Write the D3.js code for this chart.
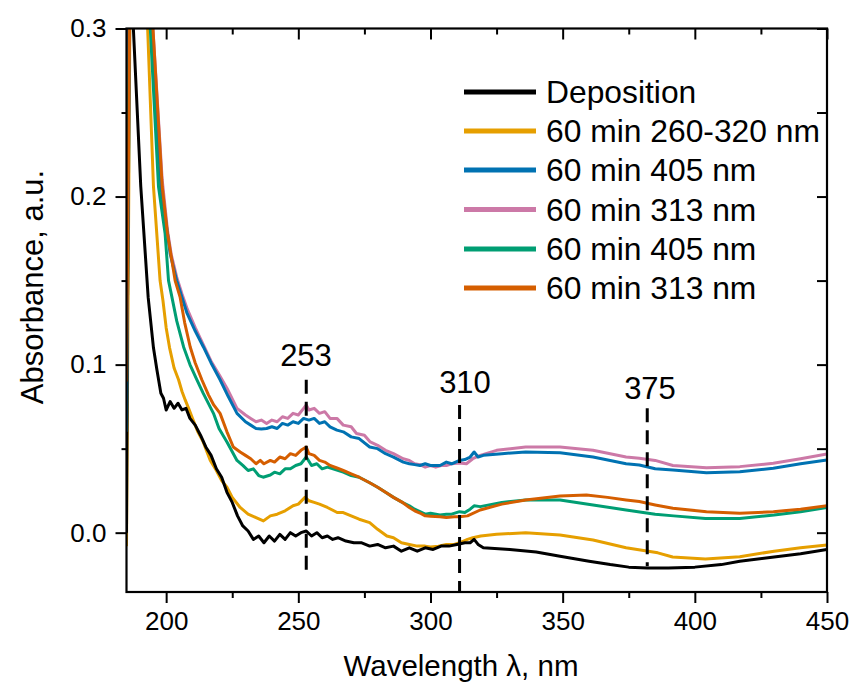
<!DOCTYPE html>
<html>
<head>
<meta charset="utf-8">
<script src="https://cdn.jsdelivr.net/npm/d3@7"></script>
<style>
  body { margin: 0; background: #fff; }
  svg { display: block; }
  text { font-family: "Liberation Sans", Arial, sans-serif; fill: #000; }
</style>
</head>
<body>
<svg id="chart" width="855" height="682"></svg>
<script>
// ---------------- DATA ----------------
const seriesNames = ["Deposition", "60 min 260-320 nm", "60 min 405 nm", "60 min 313 nm", "60 min 405 nm", "60 min 313 nm"];
const seriesColors = ["#000000", "#E69F00", "#0072B2", "#CC79A7", "#009E73", "#D55E00"];

const deposition = [
  [185,0.000],[186,0.360],[187.6,0.300],[190.4,0.206],[192.1,0.166],[193.2,0.140],[195.2,0.110],[196.5,0.097],
  [198,0.083],[199,0.080],[200,0.073],[201.5,0.078],[203,0.074],[204.5,0.077],[206,0.073],[207.5,0.074],
  [209,0.068],[211,0.064],[213,0.058],[215,0.051],[217,0.046],[219,0.038],[221,0.033],[223,0.024],[225,0.018],
  [227,0.010],[229,0.004],[231,0.001],[233,-0.004],[235,-0.002],[237,-0.006],[239,-0.002],[241,-0.005],
  [243,-0.001],[245,-0.004],[247,0.000],[249,-0.002],[251,0.000],[253,0.001],[255,-0.002],[257,0.000],
  [259,-0.003],[261,-0.002],[263,-0.004],[265,-0.003],[268,-0.005],[271,-0.006],[274,-0.006],[277,-0.008],
  [280,-0.007],[283,-0.009],[286,-0.008],[289,-0.011],[292,-0.009],[295,-0.011],[298,-0.009],[301,-0.010],
  [304,-0.008],[307,-0.008],[310,-0.007],[313,-0.006],[315,-0.006],[316.5,-0.004],[318,-0.007],[320,-0.009],
  [330,-0.010],[340,-0.0115],[349,-0.014],[360,-0.017],[368,-0.019],[375,-0.0205],[382,-0.021],[390,-0.021],
  [400,-0.0205],[410,-0.019],[417,-0.017],[430,-0.0145],[440,-0.0125],[450,-0.010]
];
const orange260320 = [
  [185,-0.008],[186.5,0.360],[191,0.360],[193,0.300],[195.2,0.206],[197.7,0.150],[198.8,0.138],[200,0.122],
  [201.3,0.110],[203,0.098],[204.7,0.091],[206,0.084],[207.2,0.079],[208.5,0.074],[210.2,0.067],[212,0.060],
  [214,0.054],[216.7,0.043],[219,0.037],[221,0.031],[223,0.027],[225,0.021],[228,0.015],[231,0.011],[234,0.009],
  [236.8,0.007],[239.4,0.010],[242,0.011],[245,0.013],[248,0.016],[250,0.017],[252.5,0.021],[254,0.019],
  [256,0.018],[258,0.017],[261,0.015],[264.7,0.012],[267,0.012],[270,0.010],[273,0.008],[277,0.006],[280,0.002],
  [283.5,-0.002],[286,-0.003],[289,-0.006],[292,-0.007],[295,-0.008],[298,-0.008],[300,-0.0085],[303,-0.008],
  [306,-0.007],[309,-0.007],[311,-0.006],[314,-0.004],[316,-0.003],[319,-0.002],[325,-0.001],[336,0.000],
  [349,-0.0014],[361.5,-0.0044],[374,-0.009],[386,-0.012],[391.6,-0.0145],[404,-0.0157],[417,-0.0143],
  [430,-0.011],[440,-0.009],[450,-0.0073]
];
const blue405a = [
  [185,0.060],[186.5,0.360],[193,0.360],[194.5,0.300],[198,0.206],[200.5,0.178],[201.5,0.166],[204,0.150],
  [206,0.140],[207.8,0.131],[211,0.120],[214.1,0.1105],[217,0.101],[220.4,0.091],[223.5,0.081],[226.8,0.071],
  [230,0.066],[232,0.064],[234,0.062],[236,0.0617],[238,0.062],[240,0.063],[242,0.062],[244,0.065],[246,0.064],
  [248,0.066],[250,0.065],[252,0.068],[254,0.067],[256,0.068],[258,0.065],[260,0.066],[262,0.063],[264.6,0.061],
  [267,0.060],[270,0.057],[273,0.056],[277,0.051],[280,0.050],[283,0.047],[286,0.045],[289.7,0.042],[292,0.041],
  [294,0.0405],[296,0.040],[298,0.041],[300,0.040],[303.6,0.040],[306,0.042],[308,0.041],[311,0.043],[313,0.0435],
  [315,0.045],[316.5,0.048],[318,0.045],[320,0.046],[327,0.047],[336,0.048],[349,0.0476],[361.5,0.045],
  [374,0.041],[379,0.0403],[385,0.038],[391.7,0.0373],[404.4,0.0357],[417,0.0363],[429.7,0.0383],[440,0.041],
  [450,0.0433]
];
const pink313a = [
  [185,0.178],[186.5,0.360],[193,0.360],[195,0.300],[198.5,0.210],[200.5,0.180],[202,0.165],[204,0.152],
  [206,0.142],[208,0.133],[211,0.122],[214,0.112],[217,0.102],[220.4,0.093],[223,0.086],[226.8,0.074],
  [230,0.070],[232,0.068],[234,0.066],[236,0.067],[238,0.065],[240,0.067],[242,0.066],[244,0.069],[246,0.068],
  [248,0.071],[250,0.070],[252,0.074],[253,0.076],[254,0.073],[256,0.074],[258,0.071],[260,0.072],[262,0.068],
  [264.6,0.068],[267,0.064],[270,0.063],[272,0.059],[275,0.058],[277.2,0.054],[280,0.052],[283,0.049],
  [286,0.047],[289.7,0.044],[292,0.043],[294,0.041],[296,0.0405],[298,0.039],[300,0.040],[302,0.039],
  [304,0.040],[306,0.040],[308,0.041],[311,0.0415],[313.6,0.041],[316,0.044],[318.8,0.046],[325,0.049],
  [336,0.051],[349,0.051],[361.5,0.049],[374,0.045],[379,0.0443],[385,0.043],[391.7,0.040],[404.4,0.0387],
  [417,0.0393],[429.7,0.0413],[440,0.044],[450,0.0468]
];
const green405b = [
  [185,0.150],[186.5,0.360],[192,0.360],[194,0.300],[197.1,0.206],[199.6,0.178],[200.9,0.150],[202.2,0.140],
  [204,0.126],[206.6,0.1105],[209,0.100],[211.6,0.091],[214,0.083],[217.9,0.071],[220,0.062],[223,0.054],
  [226.8,0.043],[229,0.040],[231,0.037],[233,0.038],[235,0.034],[236.7,0.033],[239.4,0.0343],[241,0.036],
  [243,0.035],[245,0.038],[247,0.038],[249,0.040],[251,0.041],[253,0.045],[255,0.040],[257,0.041],[259,0.038],
  [261,0.039],[264.6,0.0373],[267,0.036],[270,0.034],[273,0.033],[277,0.0297],[280,0.027],[283,0.024],
  [286,0.021],[289.7,0.0177],[292,0.016],[294,0.014],[296,0.0125],[298,0.011],[300,0.0115],[303.6,0.0105],
  [306,0.011],[308,0.011],[311,0.0125],[313,0.012],[315,0.014],[316.5,0.016],[318.8,0.0155],[327,0.018],
  [336,0.0195],[349,0.0195],[361.5,0.0165],[374,0.0135],[385,0.011],[392,0.010],[404,0.0085],[417,0.0085],
  [430,0.0105],[440,0.0125],[450,0.015]
];
const vermilion313b = [
  [185,0.090],[186.5,0.360],[193,0.360],[195,0.300],[198.5,0.206],[200.5,0.178],[203.4,0.150],[205.3,0.140],
  [207,0.125],[209.1,0.1105],[211,0.101],[213.5,0.091],[216,0.082],[218,0.076],[220.4,0.071],[223,0.060],
  [225.4,0.051],[228,0.048],[230,0.046],[232,0.044],[234,0.041],[235.6,0.043],[237,0.041],[239.4,0.043],
  [241,0.042],[243,0.045],[245,0.044],[247,0.047],[249,0.046],[251,0.049],[253,0.051],[254,0.047],[256,0.046],
  [258,0.043],[260,0.042],[262,0.040],[264.6,0.0385],[267,0.037],[270,0.035],[273,0.033],[277,0.0297],
  [280,0.027],[283,0.024],[286,0.021],[289.7,0.0177],[292,0.015],[294,0.013],[296,0.0117],[298,0.010],
  [300,0.0098],[303.6,0.0095],[306,0.009],[309,0.0095],[311,0.0095],[314,0.010],[318.8,0.0135],[327,0.017],
  [336,0.0195],[349,0.0218],[359,0.0224],[367,0.021],[374,0.0195],[379,0.0185],[385,0.0165],[391.7,0.0145],
  [404.4,0.0125],[417,0.0115],[429.7,0.0125],[440,0.014],[450,0.016]
];
const seriesData = [deposition, orange260320, blue405a, pink313a, green405b, vermilion313b];
const drawOrder = [1, 0, 3, 2, 4, 5];

const xTicksMajor = [200, 250, 300, 350, 400, 450];
const xTicksMinor = [225, 275, 325, 375, 425];
const yTicksMajor = [0.0, 0.1, 0.2, 0.3];
const yTicksMinor = [0.05, 0.15, 0.25];

const markerPositions = [253, 311, 382];
const markerLabels = ["253", "310", "375"];
const markerTop = [0.091, 0.076, 0.074];
const markerBottom = [-0.025, -0.035, -0.020];

// ---------------- LAYOUT ----------------
const svg = d3.select("#chart");
const L = 126.5, R = 827, T = 28.5, B = 592;
const x = d3.scaleLinear().domain([185, 450]).range([L, R]);
const y = d3.scaleLinear().domain([-0.0353, 0.3]).range([B, T]);

svg.append("defs").append("clipPath").attr("id", "clip")
  .append("rect").attr("x", L).attr("y", T).attr("width", R - L).attr("height", B - T);

// curves
const line = d3.line().x(d => x(d[0])).y(d => y(d[1]));
const gLines = svg.append("g").attr("clip-path", "url(#clip)");
drawOrder.forEach(i => {
  gLines.append("path").datum(seriesData[i])
    .attr("fill", "none").attr("stroke", seriesColors[i])
    .attr("stroke-width", 3).attr("stroke-linejoin", "round")
    .attr("d", line);
});

// dashed markers
markerPositions.forEach((p, i) => {
  svg.append("line")
    .attr("x1", x(p)).attr("x2", x(p))
    .attr("y1", y(markerTop[i])).attr("y2", y(markerBottom[i]))
    .attr("stroke", "#000").attr("stroke-width", 3)
    .attr("stroke-dasharray", "14,8");
});
const labelX = [306, 465, 650];
const labelY = [366, 393, 399];
markerLabels.forEach((t, i) => {
  svg.append("text").attr("x", labelX[i]).attr("y", labelY[i])
    .attr("text-anchor", "middle").style("font-size", "31px").text(t);
});

// axes
const axisStyle = g => {
  g.select(".domain").remove();
  g.selectAll("line").attr("stroke", "#000").attr("stroke-width", 2);
  g.selectAll("text").attr("font-size", 26).attr("font-family", "Liberation Sans, Arial, sans-serif").attr("fill", "#000");
};
// bottom
svg.append("g").attr("transform", `translate(0,${B})`)
  .call(d3.axisBottom(x).tickValues(xTicksMajor).tickSize(11).tickPadding(9).tickFormat(d3.format("d")))
  .call(axisStyle);
svg.append("g").attr("transform", `translate(0,${B})`)
  .call(d3.axisBottom(x).tickValues(xTicksMinor).tickSize(6).tickFormat(""))
  .call(axisStyle);
// top (inward)
svg.append("g").attr("transform", `translate(0,${T})`)
  .call(d3.axisBottom(x).tickValues(xTicksMajor).tickSize(11).tickFormat(""))
  .call(axisStyle);
svg.append("g").attr("transform", `translate(0,${T})`)
  .call(d3.axisBottom(x).tickValues(xTicksMinor).tickSize(6).tickFormat(""))
  .call(axisStyle);
// left
svg.append("g").attr("transform", `translate(${L},0)`)
  .call(d3.axisLeft(y).tickValues(yTicksMajor).tickSize(11).tickPadding(9).tickFormat(d3.format(".1f")))
  .call(axisStyle);
svg.append("g").attr("transform", `translate(${L},0)`)
  .call(d3.axisLeft(y).tickValues(yTicksMinor).tickSize(5).tickFormat(""))
  .call(axisStyle);
// right (inward)
svg.append("g").attr("transform", `translate(${R},0)`)
  .call(d3.axisLeft(y).tickValues(yTicksMajor.concat(yTicksMinor)).tickSize(10).tickFormat(""))
  .call(axisStyle);

// frame
svg.append("rect").attr("x", L).attr("y", T).attr("width", R - L).attr("height", B - T)
  .attr("fill", "none").attr("stroke", "#000").attr("stroke-width", 2.2);

// axis titles
svg.append("text").attr("x", 461).attr("y", 676).attr("text-anchor", "middle")
  .style("font-size", "29.5px").text("Wavelength λ, nm");
svg.append("text").attr("transform", "translate(43,287) rotate(-90)")
  .attr("text-anchor", "middle").style("font-size", "31px").text("Absorbance, a.u.");

// legend
const legendRows = [92, 131, 170, 209.5, 249, 288];
seriesNames.forEach((n, i) => {
  svg.append("line").attr("x1", 464).attr("x2", 536)
    .attr("y1", legendRows[i]).attr("y2", legendRows[i])
    .attr("stroke", seriesColors[i]).attr("stroke-width", 5);
  svg.append("text").attr("x", 546).attr("y", legendRows[i] + 11)
    .style("font-size", "31.8px").text(n);
});
</script>
</body>
</html>
